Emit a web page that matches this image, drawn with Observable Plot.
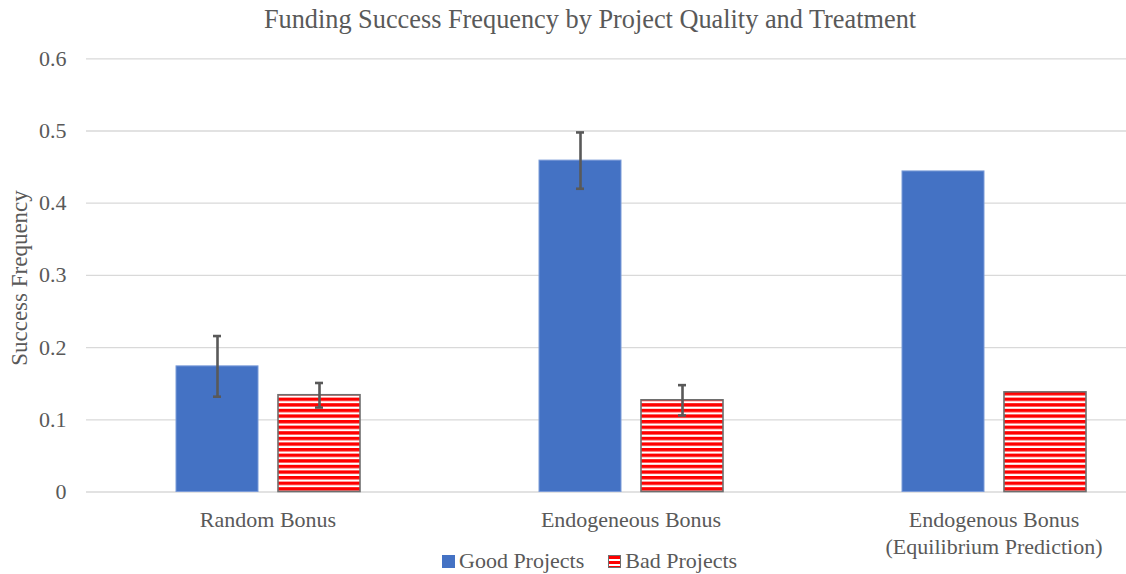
<!DOCTYPE html>
<html>
<head>
<meta charset="utf-8">
<script src="https://cdn.jsdelivr.net/npm/d3@7"></script>
<script src="https://cdn.jsdelivr.net/npm/@observablehq/plot@0.6"></script>
<style>
  html, body { margin: 0; padding: 0; background: #fff; }
  #wrap { position: relative; width: 1126px; height: 574px; overflow: hidden; font-family: "Liberation Serif", "Times New Roman", serif; color: #595959; }
  #chart { position: absolute; left: 0; top: 0; }
  #chart svg, #chart svg text { font-family: "Liberation Serif", "Times New Roman", serif; }
  #title { position: absolute; left: 0; top: 4px; width: 1180px; text-align: center; font-size: 26.3px; line-height: 32px; white-space: nowrap; }
  #ylabel { position: absolute; left: 20px; top: 278px; transform: translate(-50%, -50%) rotate(-90deg); font-size: 23px; white-space: nowrap; }
  #legend { position: absolute; left: 442px; top: 548px; display: flex; align-items: center; font-size: 22px; line-height: 26px; white-space: nowrap; }
  .sw { width: 13px; height: 13px; margin-right: 4px; box-sizing: border-box; }
  .item { display: flex; align-items: center; margin-right: 24px; }
</style>
</head>
<body>
<div id="wrap">
  <div id="chart"></div>
  <div id="title">Funding Success Frequency by Project Quality and Treatment</div>
  <div id="ylabel">Success Frequency</div>
  <div id="legend"></div>
</div>
<script>
const categories = ["Random Bonus", "Endogeneous Bonus", "Endogenous Bonus\n(Equilibrium Prediction)"];
const seriesNames = ["Good Projects", "Bad Projects"];
const goodValues = [0.174, 0.459, 0.444];
const badValues = [0.134, 0.127, 0.138];
const goodErrors = [0.042, 0.039, null];
const badErrors = [0.017, 0.021, null];
const yTicks = [0, 0.1, 0.2, 0.3, 0.4, 0.5, 0.6];

const goodColor = "#4472C4";
const textColor = "#595959";

const rows = [];
categories.forEach((c, i) => {
  rows.push({category: c, series: seriesNames[0], value: goodValues[i], err: goodErrors[i]});
  rows.push({category: c, series: seriesNames[1], value: badValues[i], err: badErrors[i]});
});
const goodRows = rows.filter(d => d.series === seriesNames[0]);
const badRows = rows.filter(d => d.series === seriesNames[1]);
const errRows = rows.filter(d => d.err != null);
const capRows = errRows.flatMap(d => [
  {category: d.category, series: d.series, y: d.value - d.err},
  {category: d.category, series: d.series, y: d.value + d.err}
]);

const svg = Plot.plot({
  width: 1126,
  height: 574,
  marginTop: 58.3,
  marginBottom: 82.5,
  marginLeft: 86,
  marginRight: 0,
  style: {fontFamily: "'Liberation Serif', 'Times New Roman', serif", fontSize: "22px", color: textColor, background: "transparent", overflow: "visible"},
  fx: {domain: categories, range: [86, 1175], paddingInner: 0, paddingOuter: 0, axis: null, label: null},
  x: {domain: seriesNames, paddingInner: 0.2, paddingOuter: 0.871, axis: null, label: null},
  y: {domain: [0, 0.6], ticks: yTicks, tickSize: 0, tickPadding: 20, label: null,
      tickFormat: d => d === 0 ? "0" : d.toFixed(1)},
  marks: [
    Plot.ruleY(yTicks, {y: d => d, stroke: "#d9d9d9", strokeWidth: 1.3}),
    Plot.barY(goodRows, {fx: "category", x: "series", y: "value", fill: goodColor, stroke: "#7b9bd8", strokeWidth: 1}),
    Plot.barY(badRows, {fx: "category", x: "series", y: "value", fill: "url(#redStripes)", stroke: "#6e6e6e", strokeWidth: 1.6}),
    Plot.ruleX(errRows, {fx: "category", x: "series", y1: d => d.value - d.err, y2: d => d.value + d.err, stroke: "#595959", strokeWidth: 2.6}),
    Plot.tickY(capRows, {fx: "category", x: "series", y: "y", insetLeft: 37, insetRight: 37, stroke: "#595959", strokeWidth: 2.6}),
    Plot.text(categories, {fx: d => d, text: d => d, frameAnchor: "bottom", lineAnchor: "top", dy: 16, lineHeight: 1.22, fill: textColor, fontSize: 22})
  ]
});

// stripe pattern for the "Bad Projects" bars
const defs = d3.select(svg).insert("defs", ":first-child");
const pat = defs.append("pattern")
  .attr("id", "redStripes")
  .attr("patternUnits", "userSpaceOnUse")
  .attr("width", 10)
  .attr("height", 5.6);
pat.append("rect").attr("width", 10).attr("height", 5.6).attr("fill", "#ffffff");
pat.append("rect").attr("width", 10).attr("height", 3.4).attr("fill", "#ff0000");

document.getElementById("chart").appendChild(svg);

// legend
const legend = document.getElementById("legend");
[
  {name: seriesNames[0], style: `background:${goodColor};`},
  {name: seriesNames[1], style: "background: repeating-linear-gradient(#ff0000 0 3px, #ffffff 3px 5px); border: 1px solid #6e6e6e;"}
].forEach(s => {
  const item = document.createElement("div");
  item.className = "item";
  const sw = document.createElement("div");
  sw.className = "sw";
  sw.setAttribute("style", s.style);
  const t = document.createElement("span");
  t.textContent = s.name;
  item.appendChild(sw);
  item.appendChild(t);
  legend.appendChild(item);
});
</script>
</body>
</html>
